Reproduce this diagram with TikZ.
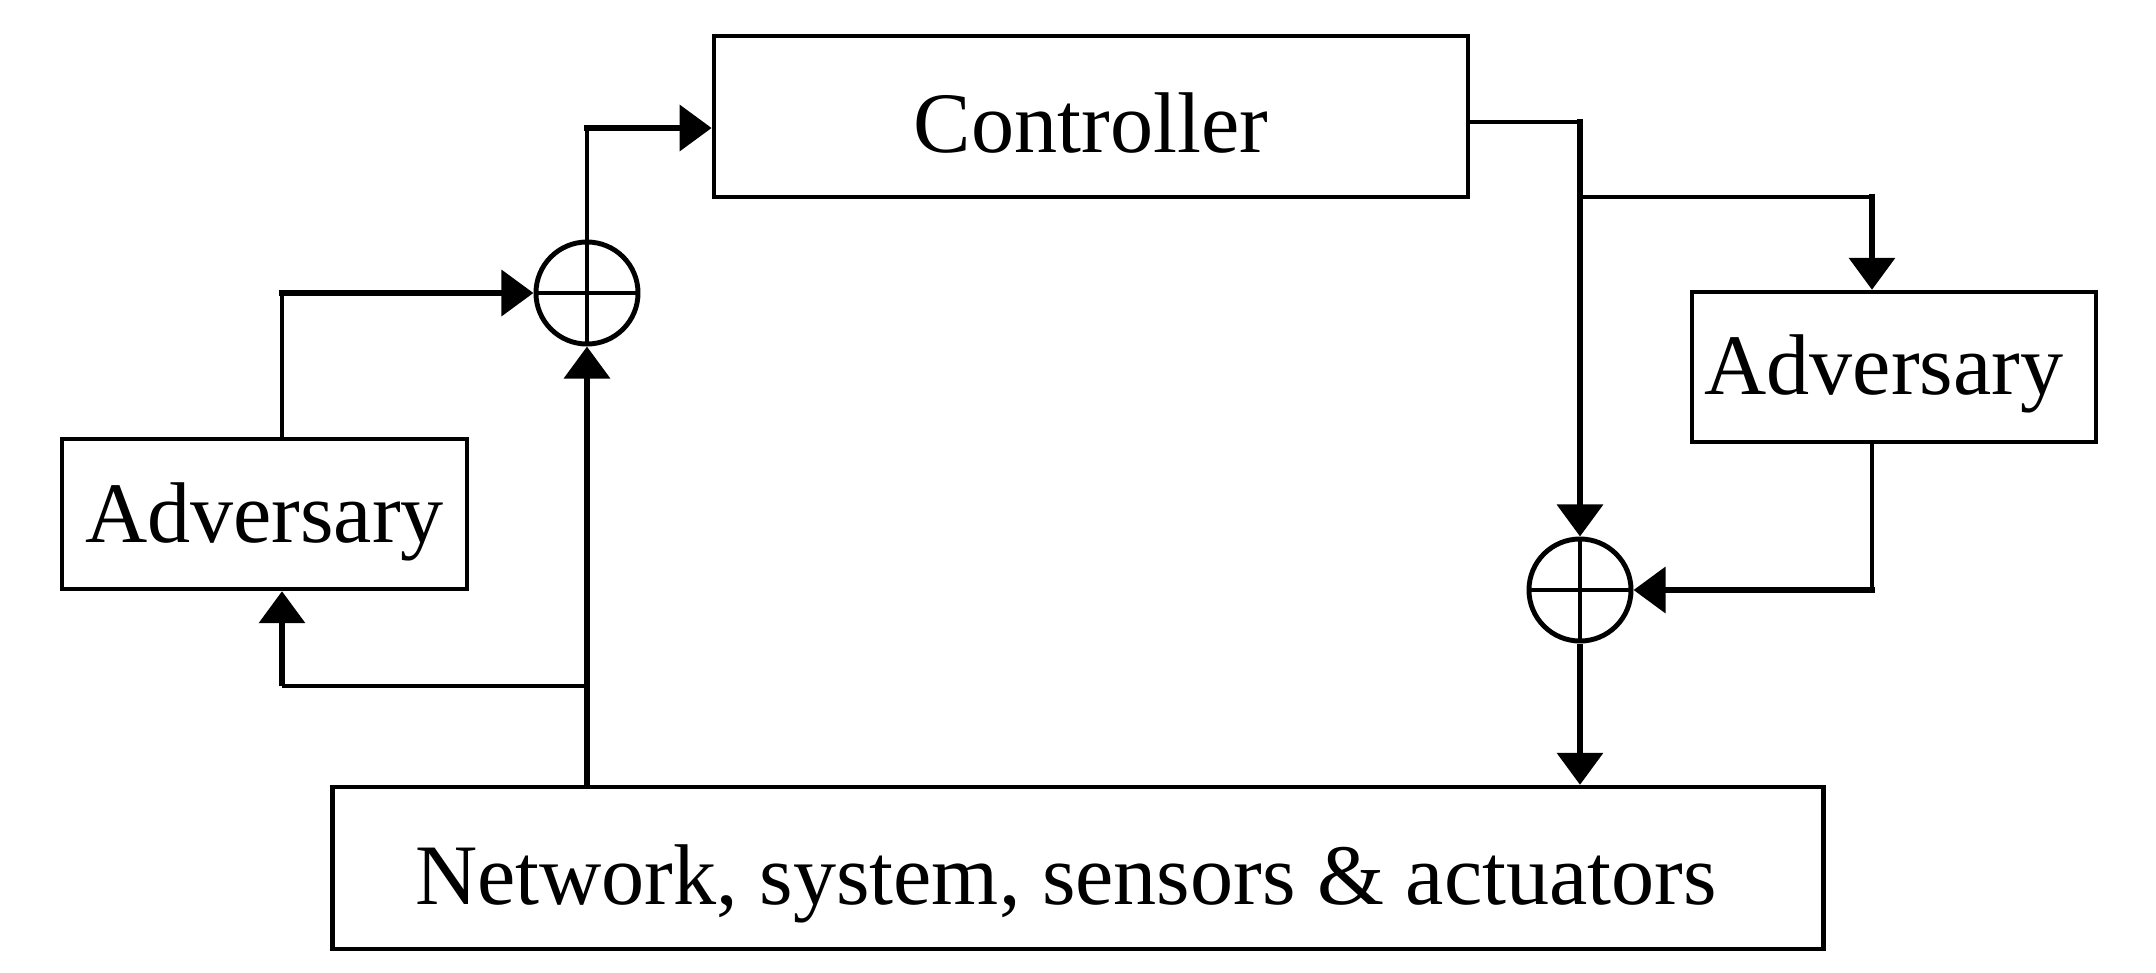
\documentclass[tikz,border=0pt]{standalone}
\usepackage{fontspec}
\setmainfont{Liberation Serif}
\usetikzlibrary{arrows.meta}
\tikzset{
  blk/.style={draw, line width=1.2pt, inner sep=0pt, text depth=0pt, font=\fontsize{24.5pt}{28pt}\selectfont},
  sumnode/.style={draw, circle, line width=1.4pt, minimum size=1.02cm, inner sep=0pt,
    path picture={\draw[line width=1pt] (path picture bounding box.north) -- (path picture bounding box.south)
      (path picture bounding box.west) -- (path picture bounding box.east);}},
  thin line/.style={line width=1pt},
  thick line/.style={line width=1.9pt},
  arr/.style={thick line, -{Triangle[length=0.32cm, width=0.45cm]}},
}
\begin{document}
\begin{tikzpicture}[x=0.01cm, y=-0.01cm]
\useasboundingbox (0,0) rectangle (2156,972);
% blocks
\node[blk, text height=0.72cm, minimum width=7.54cm, minimum height=1.61cm] (ctrl) at (1091,116.5) {Controller};
\node[blk, text height=0.56cm, minimum width=4.05cm, minimum height=1.50cm] (advL) at (264.5,514) {Adversary};
\node[blk, text height=0.54cm, minimum width=4.04cm, minimum height=1.50cm] (advR) at (1894,367) {Adversary\hspace*{0.2cm}};
\node[blk, text height=0.72cm, minimum width=14.90cm, minimum height=1.62cm] (net) at (1078,868) {Network, system, sensors \& actuators\hspace*{0.24cm}};
\node[sumnode] (s1) at (587,293) {};
\node[sumnode] (s2) at (1580,590) {};
% coordinates
\coordinate (c1) at (587,128);
\coordinate (c2) at (282,293);
\coordinate (c3) at (587,686);
\coordinate (c4) at (282,686);
\coordinate (c5) at (1580,122);
\coordinate (c6) at (1580,197);
\coordinate (c7) at (1872,197);
\coordinate (c8) at (1872,590);
% left loop
\draw[arr] (net.north -| s1) -- (s1.south);
\draw[thin line] (c3) -- (c4);
\draw[arr] (c4) -- (c4 |- advL.south);
\draw[thin line] (c2 |- advL.north) -- (c2);
\draw[arr] ([xshift=-0.9pt]c2) -- (s1.west);
\draw[thin line] (s1.north) -- (c1);
\draw[arr] ([xshift=-0.9pt]c1) -- (c1 -| ctrl.west);
% right loop
\draw[thin line] (ctrl.east |- c5) -- (c5);
\draw[arr] ([yshift=0.9pt]c5) -- (s2.north);
\draw[thin line] (c6) -- (c7);
\draw[arr] ([yshift=0.9pt]c7) -- (c7 |- advR.north);
\draw[thin line] (c7 |- advR.south) -- (c8);
\draw[arr] ([xshift=0.9pt]c8) -- (s2.east);
\draw[arr] (s2.south) -- (s2 |- net.north);
\end{tikzpicture}
\end{document}
